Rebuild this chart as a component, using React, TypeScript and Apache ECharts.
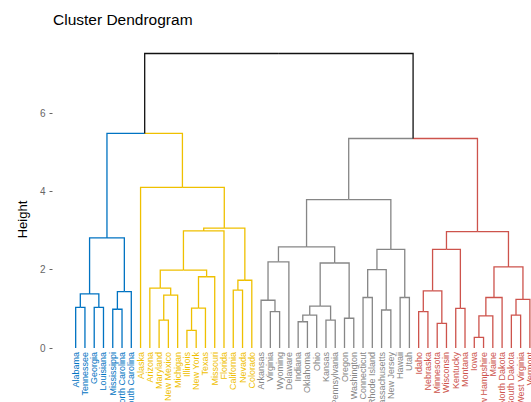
import React, { useEffect, useRef } from "react";
import * as echarts from "echarts";

const titleText = "Cluster Dendrogram";
const yAxisName = "Height";
const yTicks = [0, 2, 4, 6];
const clusterColors = ["#0073C2", "#EFC000", "#868686", "#CD534C"];
const upperColor = "#111111";

type Tree = string | [Tree, Tree, number];

// cluster subtrees: [left, right, merge height]
const blueTree: Tree = [
  [["Alabama", "Tennessee", 1.04], ["Georgia", "Louisiana", 1.04], 1.38],
  [["Mississippi", "North Carolina", 0.99], "South Carolina", 1.44],
  2.81,
];
const yellowTree: Tree = [
  "Alaska",
  [
    [
      [
        ["Arizona", [["Maryland", "New Mexico", 0.71], "Michigan", 1.35], 1.53],
        [[["Illinois", "New York", 0.45], "Texas", 1.02], "Missouri", 1.82],
        1.99,
      ],
      "Florida",
      2.99,
    ],
    [["California", "Nevada", 1.48], "Colorado", 1.73],
    3.06,
  ],
  4.1,
];
const greyTree: Tree = [
  [
    [["Arkansas", ["Virginia", "Wyoming", 0.93], 1.22], "Delaware", 2.2],
    [
      [[["Indiana", "Oklahoma", 0.67], "Ohio", 0.84], ["Kansas", "Pennsylvania", 0.71], 1.07],
      ["Oregon", "Washington", 0.76],
      2.17,
    ],
    2.58,
  ],
  [
    [["Connecticut", "Rhode Island", 1.29], ["Massachusetts", "New Jersey", 0.97], 2.0],
    ["Hawaii", "Utah", 1.29],
    2.52,
  ],
  3.79,
];
const redTree: Tree = [
  [
    [["Idaho", "Nebraska", 0.93], ["Minnesota", "Wisconsin", 0.63], 1.46],
    ["Kentucky", "Montana", 1.01],
    2.52,
  ],
  [
    [[["Iowa", "New Hampshire", 0.27], "Maine", 0.82], "North Dakota", 1.29],
    [["South Dakota", "West Virginia", 0.84], "Vermont", 1.24],
    2.07,
  ],
  2.97,
];
const clusterTrees: Tree[] = [blueTree, yellowTree, greyTree, redTree];
// upper merges: (cluster0, cluster1), (cluster2, cluster3), top
const upperHeights = [5.48, 5.35, 7.52];

type NodeInfo = { x: number; h: number; c: number };

function buildLayout() {
  const leaves: string[] = [];
  const leafCluster: number[] = [];
  const segs: number[][] = [];
  const join = (L: NodeInfo, R: NodeInfo, h: number): NodeInfo => {
    const xm = (L.x + R.x) / 2;
    segs.push([L.x, L.h, L.x, h, xm, h, L.c]);
    segs.push([R.x, R.h, R.x, h, xm, h, R.c]);
    return { x: xm, h, c: L.c === R.c ? L.c : -1 };
  };
  const walk = (t: Tree, cluster: number): NodeInfo => {
    if (typeof t === "string") {
      const i = leaves.length;
      leaves.push(t);
      leafCluster.push(cluster);
      return { x: i, h: 0, c: cluster };
    }
    const L = walk(t[0], cluster);
    const R = walk(t[1], cluster);
    return join(L, R, t[2]);
  };
  const roots = clusterTrees.map((t, i) => walk(t, i));
  const a = join(roots[0], roots[1], upperHeights[0]);
  const b = join(roots[2], roots[3], upperHeights[1]);
  join(a, b, upperHeights[2]);
  return { leaves, leafCluster, segs };
}

export default function App() {
  const ref = useRef<HTMLDivElement>(null);
  useEffect(() => {
    if (!ref.current) return;
    const chart = echarts.init(ref.current, undefined, { renderer: "svg" });
    const { leaves, leafCluster, segs } = buildLayout();
    const font = "Liberation Sans, Arial, sans-serif";
    const yMin = -1.44;
    const pxPerUnit = 39.16;
    chart.setOption({
      animation: false,
      backgroundColor: "#ffffff",
      title: {
        text: titleText,
        left: 48,
        top: 6,
        textStyle: { fontFamily: font, fontSize: 15.5, fontWeight: "normal", color: "#000" },
      },
      grid: {
        left: 52.5,
        right: 1.1,
        top: 34.7,
        bottom: -2.4,
        containLabel: false,
        outerBoundsMode: "none",
      },
      xAxis: {
        type: "value",
        min: -2.5,
        max: 49,
        offset: yMin * pxPerUnit,
        axisLine: { show: false, onZero: false },
        axisTick: { show: false },
        splitLine: { show: false },
        axisLabel: {
          customValues: leaves.map((_, i) => i),
          rotate: 90,
          margin: 4,
          fontSize: 9,
          fontFamily: font,
          formatter: (v: number) => leaves[Math.round(Number(v))] ?? "",
          color: (v: any) => {
            const c = leafCluster[Math.round(Number(v))];
            return c === undefined ? "#000" : clusterColors[c];
          },
        },
      },
      yAxis: {
        type: "value",
        min: yMin,
        max: 8,
        name: yAxisName,
        nameLocation: "middle",
        nameRotate: 90,
        nameGap: 24,
        nameTextStyle: { fontFamily: font, fontSize: 13, color: "#000" },
        axisLine: { show: false, onZero: false },
        axisTick: { show: true, customValues: yTicks, length: 3, lineStyle: { color: "#666" } },
        splitLine: { show: false },
        axisLabel: {
          customValues: yTicks,
          margin: 7,
          fontSize: 10,
          fontFamily: font,
          color: "#666",
        },
      },
      series: [
        {
          type: "custom",
          coordinateSystem: "cartesian2d",
          clip: false,
          encode: { x: [0, 2, 4], y: [1, 3, 5] },
          data: segs,
          renderItem: (_params: any, api: any) => {
            const p1 = api.coord([api.value(0), api.value(1)]);
            const p2 = api.coord([api.value(2), api.value(3)]);
            const p3 = api.coord([api.value(4), api.value(5)]);
            const ci = api.value(6);
            return {
              type: "polyline",
              shape: { points: [p1, p2, p3] },
              style: {
                stroke: ci < 0 ? upperColor : clusterColors[ci],
                lineWidth: 1.3,
                fill: null,
              },
            };
          },
        },
      ],
    });
    return () => chart.dispose();
  }, []);
  return (
    <div
      ref={ref}
      style={{ position: "fixed", left: 0, top: 0, width: 531, height: 402, background: "#fff" }}
    />
  );
}
